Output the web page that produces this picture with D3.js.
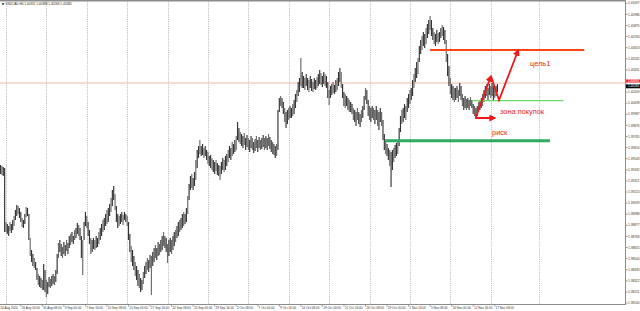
<!DOCTYPE html>
<html><head><meta charset="utf-8">
<script src="https://cdn.jsdelivr.net/npm/d3@7"></script>
<style>html,body{margin:0;padding:0;background:#fff;overflow:hidden}svg{display:block}</style>
</head><body>
<svg id="c" width="640" height="311"></svg>
<script>
// ---------------- DATA ----------------
const symbolTitle = "USDCAD,H4  1.40331 1.40388 1.40268 1.40284";
const bidPrice = 1.40284;
const askPrice = 1.4030;

const highs = [
1.3948,1.3947,1.3946,1.3945,1.3891,1.3889,1.3887,1.3891,1.3889,1.3893,
1.3897,1.3903,1.3908,1.3907,1.3905,1.3901,1.3895,1.3893,1.3899,1.3906,
1.3905,1.3899,1.3875,1.3863,1.3859,1.3855,1.3851,1.3845,1.3839,1.3837,
1.3835,1.3833,1.3849,1.3843,1.3833,1.3831,1.3836,1.3834,1.3837,1.3839,
1.3837,1.3843,1.3859,1.3870,1.3873,1.3869,1.3866,1.3871,1.3868,1.3873,
1.3870,1.3877,1.3879,1.3881,1.3877,1.3883,1.3885,1.3890,1.3888,1.3885,
1.3877,1.3873,1.3891,1.3901,1.3897,1.3891,1.3883,1.3875,1.3873,1.3875,
1.3873,1.3877,1.3875,1.3881,1.3885,1.3889,1.3893,1.3895,1.3899,1.3903,
1.3905,1.3909,1.3915,1.3923,1.3927,1.3919,1.3907,1.3899,1.3897,1.3899,
1.3901,1.3898,1.3901,1.3899,1.3897,1.3891,1.3879,1.3867,1.3863,1.3857,
1.3851,1.3847,1.3843,1.3839,1.3835,1.3833,1.3841,1.3847,1.3851,1.3855,
1.3853,1.3858,1.3857,1.3861,1.3865,1.3868,1.3865,1.3871,1.3869,1.3873,
1.3877,1.3881,1.3877,1.3875,1.3869,1.3873,1.3875,1.3873,1.3877,1.3881,
1.3883,1.3887,1.3891,1.3893,1.3895,1.3899,1.3901,1.3899,1.3905,1.3917,
1.3929,1.3937,1.3939,1.3935,1.3941,1.3953,1.3963,1.3967,1.3973,1.3967,
1.3969,1.3965,1.3967,1.3963,1.3961,1.3957,1.3958,1.3955,1.3953,1.3951,
1.3953,1.3950,1.3948,1.3947,1.3951,1.3955,1.3953,1.3957,1.3959,1.3963,
1.3967,1.3965,1.3971,1.3969,1.3973,1.3977,1.3991,1.3985,1.3981,1.3979,
1.3977,1.3980,1.3975,1.3978,1.3975,1.3973,1.3977,1.3975,1.3971,1.3974,
1.3977,1.3973,1.3976,1.3973,1.3975,1.3978,1.3975,1.3977,1.3975,1.3979,
1.3976,1.3973,1.3971,1.3969,1.3967,1.3969,1.4003,1.4015,1.4017,1.4015,
1.4011,1.4005,1.4001,1.4003,1.4005,1.4007,1.4005,1.4009,1.4013,1.4019,
1.4023,1.4031,1.4035,1.4055,1.4041,1.4037,1.4035,1.4039,1.4035,1.4033,
1.4037,1.4034,1.4031,1.4035,1.4033,1.4036,1.4039,1.4043,1.4040,1.4037,
1.4041,1.4039,1.4037,1.4031,1.4023,1.4027,1.4029,1.4031,1.4028,1.4033,
1.4035,1.4041,1.4045,1.4041,1.4029,1.4021,1.4019,1.4017,1.4015,1.4013,
1.4011,1.4009,1.4005,1.4003,1.4001,1.4005,1.4001,1.3999,1.4003,1.4007,
1.4017,1.4025,1.4023,1.4013,1.4007,1.4005,1.4007,1.4005,1.4003,1.4007,
1.4003,1.4001,1.4005,1.4001,1.3993,1.3979,1.3973,1.3969,1.3965,1.3963,
1.3961,1.3963,1.3965,1.3968,1.3970,1.3973,1.3985,1.3997,1.4003,1.4005,
1.4009,1.4007,1.4015,1.4019,1.4023,1.4025,1.4033,1.4039,1.4045,1.4051,
1.4055,1.4067,1.4073,1.4077,1.4081,1.4079,1.4085,1.4089,1.4093,1.4097,
1.4093,1.4085,1.4081,1.4079,1.4083,1.4080,1.4081,1.4085,1.4088,1.4086,
1.4083,1.4073,1.4059,1.4047,1.4035,1.4029,1.4027,1.4025,1.4025,1.4027,
1.4023,1.4030,1.4027,1.4019,1.4015,1.4017,1.4014,1.4015,1.4013,1.4016,
1.4013,1.4009,1.4007,1.4005,1.4007,1.4011,1.4013,1.4015,1.4019,1.4023,
1.4027,1.4029,1.4025,1.4029,1.4027,1.4030,1.4027,1.4025,1.4027,1.4029
];
const lows = [
1.3939,1.3938,1.3937,1.3881,1.3881,1.3879,1.3877,1.3882,1.3880,1.3883,
1.3887,1.3893,1.3897,1.3899,1.3895,1.3891,1.3886,1.3885,1.3889,1.3896,
1.3897,1.3873,1.3857,1.3851,1.3847,1.3845,1.3843,1.3833,1.3828,1.3826,
1.3825,1.3823,1.3823,1.3821,1.3816,1.3819,1.3826,1.3825,1.3827,1.3829,
1.3828,1.3831,1.3839,1.3855,1.3861,1.3857,1.3855,1.3859,1.3857,1.3862,
1.3859,1.3865,1.3868,1.3871,1.3869,1.3873,1.3875,1.3879,1.3877,1.3873,
1.3855,1.3838,1.3873,1.3887,1.3885,1.3877,1.3869,1.3859,1.3861,1.3864,
1.3863,1.3865,1.3866,1.3869,1.3873,1.3877,1.3881,1.3883,1.3887,1.3889,
1.3891,1.3897,1.3901,1.3907,1.3913,1.3903,1.3891,1.3885,1.3887,1.3889,
1.3891,1.3888,1.3893,1.3891,1.3887,1.3873,1.3861,1.3851,1.3847,1.3843,
1.3837,1.3833,1.3827,1.3825,1.3821,1.3823,1.3829,1.3835,1.3839,1.3843,
1.3841,1.3845,1.3818,1.3847,1.3851,1.3855,1.3853,1.3857,1.3858,1.3861,
1.3863,1.3867,1.3865,1.3861,1.3850,1.3857,1.3861,1.3859,1.3863,1.3867,
1.3871,1.3875,1.3877,1.3881,1.3883,1.3885,1.3887,1.3889,1.3891,1.3899,
1.3913,1.3923,1.3925,1.3923,1.3927,1.3933,1.3945,1.3955,1.3959,1.3957,
1.3958,1.3955,1.3957,1.3953,1.3949,1.3947,1.3945,1.3943,1.3941,1.3939,
1.3942,1.3938,1.3937,1.3933,1.3939,1.3943,1.3941,1.3943,1.3947,1.3951,
1.3955,1.3953,1.3957,1.3959,1.3961,1.3963,1.3973,1.3971,1.3969,1.3967,
1.3965,1.3968,1.3963,1.3966,1.3963,1.3961,1.3965,1.3963,1.3960,1.3962,
1.3965,1.3961,1.3965,1.3963,1.3964,1.3966,1.3963,1.3965,1.3963,1.3967,
1.3964,1.3961,1.3959,1.3958,1.3955,1.3957,1.3963,1.4001,1.4007,1.4005,
1.3999,1.3991,1.3985,1.3989,1.3993,1.3995,1.3995,1.3997,1.3999,1.4005,
1.4011,1.4017,1.4021,1.4027,1.4025,1.4025,1.4023,1.4027,1.4023,1.4021,
1.4025,1.4022,1.4021,1.4024,1.4023,1.4025,1.4027,1.4029,1.4028,1.4026,
1.4029,1.4027,1.4025,1.4015,1.4008,1.4015,1.4018,1.4020,1.4019,1.4021,
1.4023,1.4027,1.4031,1.4025,1.4015,1.4007,1.4005,1.4007,1.4003,1.4001,
1.4001,1.3999,1.3993,1.3991,1.3987,1.3993,1.3989,1.3986,1.3991,1.3995,
1.4003,1.4013,1.4009,1.3997,1.3993,1.3991,1.3995,1.3993,1.3989,1.3993,
1.3987,1.3983,1.3991,1.3987,1.3973,1.3963,1.3959,1.3957,1.3953,1.3947,
1.3926,1.3943,1.3951,1.3955,1.3957,1.3959,1.3967,1.3981,1.3989,1.3991,
1.3995,1.3993,1.4001,1.4005,1.4009,1.4013,1.4017,1.4025,1.4031,1.4035,
1.4039,1.4051,1.4059,1.4063,1.4067,1.4065,1.4069,1.4075,1.4079,1.4083,
1.4077,1.4073,1.4069,1.4067,1.4071,1.4069,1.4071,1.4075,1.4077,1.4073,
1.4069,1.4051,1.4037,1.4027,1.4019,1.4015,1.4013,1.4011,1.4013,1.4015,
1.4011,1.4017,1.4013,1.4007,1.4003,1.4005,1.4003,1.4005,1.4003,1.4007,
1.4005,1.3999,1.3997,1.3995,1.3997,1.4001,1.4003,1.4005,1.4007,1.4011,
1.4015,1.4017,1.4013,1.4018,1.4015,1.4017,1.4013,1.4015,1.4017,1.4021
];

const priceTicks = [1.41097,1.40986,1.40875,1.40764,1.40653,1.40542,1.40431,1.40320,1.40209,1.40098,
  1.39987,1.39876,1.39765,1.39654,1.39543,1.39432,1.39321,1.39210,1.39099,1.38988,
  1.38877,1.38766,1.38655,1.38544,1.38433,1.38322,1.38211,1.38100];

const dateLabels = ["24 Aug 2020","26 Aug 16:00","31 Aug 08:00","3 Sep 00:00","7 Sep 16:00","10 Sep 08:00",
  "15 Sep 00:00","17 Sep 16:00","22 Sep 08:00","25 Sep 00:00","29 Sep 16:00","2 Oct 08:00","7 Oct 00:00",
  "9 Oct 16:00","14 Oct 08:00","19 Oct 00:00","21 Oct 16:00","26 Oct 08:00","29 Oct 00:00","2 Nov 16:00",
  "5 Nov 08:00","10 Nov 00:00","12 Nov 16:00","17 Nov 08:00"];
const dateLabelBars = [-1,15,31,47,63,79,95,111,127,143,159,175,191,207,223,239,255,271,287,303,319,335,351,367];
const gridBars = [4,34,64,94,124,154,184,214,244,274,304,334,364,400];

// drawn analysis: horizontal levels (price, from bar, to bar)
const targetLevel = [1.4063, 319, 433.5];
const supportLevel = [1.39723, 285.5, 408];
const buyZoneLevel = [1.40123, 350, 418];
// zig-zag forecast path (bar, price)
const zigBars = [353, 364.2, 370.2, 384.5];
const zigPrices = [1.3996, 1.4037, 1.4013, 1.4063];
const riskBars = [352.3, 367.2];
const riskPrice = 1.3995;
const noteTexts = ["цель1", "зона покупок", "риск"];
const noteBars = [393.2, 370.9, 365];
const notePrices = [1.4047, 1.39995, 1.3978];

// ---------------- CHART ----------------
const W = 640, H = 311, plotR = 625, plotT = 1.5, plotB = 304;
const svg = d3.select("#c");
const x = d3.scaleLinear().domain([0, 464]).range([0.6, 0.6 + 464 * 1.3464]);
const y = d3.scaleLinear().domain([1.4113, 1.3803]).range([0, 310]);

const defs = svg.append("defs");
defs.append("clipPath").attr("id", "plot").append("rect")
  .attr("x", 0).attr("y", plotT).attr("width", plotR).attr("height", plotB - plotT);
defs.append("marker").attr("id", "ah").attr("viewBox", "0 0 10 10")
  .attr("refX", 8).attr("refY", 5).attr("markerWidth", 7).attr("markerHeight", 7)
  .attr("markerUnits", "userSpaceOnUse").attr("orient", "auto")
  .append("path").attr("d", "M0,0 L10,5 L0,10 z").attr("fill", "#f01818");

svg.append("rect").attr("width", W).attr("height", H).attr("fill", "#fff");

const plot = svg.append("g").attr("clip-path", "url(#plot)");

// vertical dotted grid
plot.selectAll("line.grid").data(gridBars).join("line")
  .attr("x1", d => Math.round(x(d)) + 0.5).attr("x2", d => Math.round(x(d)) + 0.5)
  .attr("y1", plotT).attr("y2", plotB)
  .attr("stroke", "#9a9a9a").attr("stroke-width", 0.7).attr("stroke-dasharray", "1,1.2");

// ask line
plot.append("line").attr("x1", 0).attr("x2", plotR)
  .attr("y1", y(askPrice)).attr("y2", y(askPrice))
  .attr("stroke", "#f6b9a9").attr("stroke-width", 1);

// bars (high-low)
plot.selectAll("line.bar").data(highs.map((h, i) => ({i, h, l: lows[i]}))).join("line")
  .attr("x1", d => x(d.i)).attr("x2", d => x(d.i))
  .attr("y1", d => y(d.h)).attr("y2", d => y(d.l))
  .attr("stroke", (d, i) => i % 3 === 1 ? "#6a6a6a" : "#333").attr("stroke-width", 1.15);

// levels
function level(arr, color, w) {
  plot.append("line").attr("x1", x(arr[1])).attr("x2", x(arr[2]))
    .attr("y1", y(arr[0])).attr("y2", y(arr[0]))
    .attr("stroke", color).attr("stroke-width", w);
}
level(supportLevel, "#2eaa62", 3);
level(buyZoneLevel, "#6ddc66", 1.2);
level(targetLevel, "#ff4318", 2);

// zig-zag arrows
const red = "#f01818";
plot.append("line").attr("x1", x(zigBars[0])).attr("y1", y(zigPrices[0]))
  .attr("x2", x(zigBars[1])).attr("y2", y(zigPrices[1]))
  .attr("stroke", red).attr("stroke-width", 1.8).attr("marker-end", "url(#ah)");
plot.append("path")
  .attr("d", d3.line()([[x(zigBars[1]), y(zigPrices[1])], [x(zigBars[2]), y(zigPrices[2])], [x(zigBars[3]), y(zigPrices[3])]]))
  .attr("fill", "none").attr("stroke", red).attr("stroke-width", 1.8).attr("marker-end", "url(#ah)");
plot.append("line").attr("x1", x(riskBars[0])).attr("x2", x(riskBars[1]))
  .attr("y1", y(riskPrice)).attr("y2", y(riskPrice))
  .attr("stroke", red).attr("stroke-width", 1.8).attr("marker-end", "url(#ah)");

plot.selectAll("text.note").data(noteTexts).join("text")
  .attr("x", (d, i) => x(noteBars[i])).attr("y", (d, i) => y(notePrices[i]))
  .attr("fill", "#ee1c25").attr("font-family", "Liberation Sans, Arial, sans-serif")
  .attr("font-size", 7.4).text(d => d);

// frame
svg.append("rect").attr("x", 0).attr("y", 0).attr("width", plotR).attr("height", 1.5).attr("fill", "#8c8c8c");
svg.append("line").attr("x1", plotR + 0.5).attr("x2", plotR + 0.5).attr("y1", 0).attr("y2", plotB + 1)
  .attr("stroke", "#8c8c8c").attr("stroke-width", 1);
svg.append("line").attr("x1", 0).attr("x2", plotR + 1).attr("y1", plotB + 0.5).attr("y2", plotB + 0.5)
  .attr("stroke", "#8c8c8c").attr("stroke-width", 1);

const font = "Liberation Sans, Arial, sans-serif";
// price axis
const pa = svg.append("g");
pa.selectAll("line").data(priceTicks).join("line")
  .attr("x1", plotR + 1).attr("x2", plotR + 2.5).attr("y1", d => y(d)).attr("y2", d => y(d))
  .attr("stroke", "#555").attr("stroke-width", 0.6);
pa.selectAll("text").data(priceTicks.filter(d => Math.abs(y(d) - y(askPrice)) > 4)).join("text")
  .attr("x", plotR + 3).attr("y", d => y(d) + 1.1)
  .attr("font-family", font).attr("font-size", 3.2).attr("fill", "#333")
  .text(d => d.toFixed(5));

// ask & bid labels
svg.append("rect").attr("x", plotR + 1).attr("y", y(askPrice) - 3.6).attr("width", 14).attr("height", 3.2).attr("fill", "#f03030");
svg.append("text").attr("x", plotR + 3).attr("y", y(askPrice) - 0.9).attr("font-family", font)
  .attr("font-size", 3).attr("fill", "#fff").text(askPrice.toFixed(5));
svg.append("rect").attr("x", plotR + 1).attr("y", y(bidPrice) - 0.3).attr("width", 14).attr("height", 4).attr("fill", "#000");
svg.append("text").attr("x", plotR + 3).attr("y", y(bidPrice) + 2.8).attr("font-family", font)
  .attr("font-size", 3.1).attr("fill", "#fff").text(bidPrice.toFixed(5));

// date axis
const da = svg.append("g");
da.selectAll("line").data(dateLabelBars).join("line")
  .attr("x1", d => x(d)).attr("x2", d => x(d)).attr("y1", plotB + 1).attr("y2", plotB + 2.5)
  .attr("stroke", "#555").attr("stroke-width", 0.6);
da.selectAll("text").data(dateLabels).join("text")
  .attr("x", (d, i) => Math.max(0.3, x(dateLabelBars[i]) + 0.8)).attr("y", plotB + 4.6)
  .attr("font-family", font).attr("font-size", 3.1).attr("fill", "#333").text(d => d);

// title
svg.append("path").attr("d", "M1.5,3.2 L4.5,3.2 L3,5.2 Z").attr("fill", "#222");
svg.append("text").attr("x", 5.5).attr("y", 5.3).attr("font-family", font).attr("font-size", 3.1)
  .attr("fill", "#222").text(symbolTitle);
</script>
</body></html>
